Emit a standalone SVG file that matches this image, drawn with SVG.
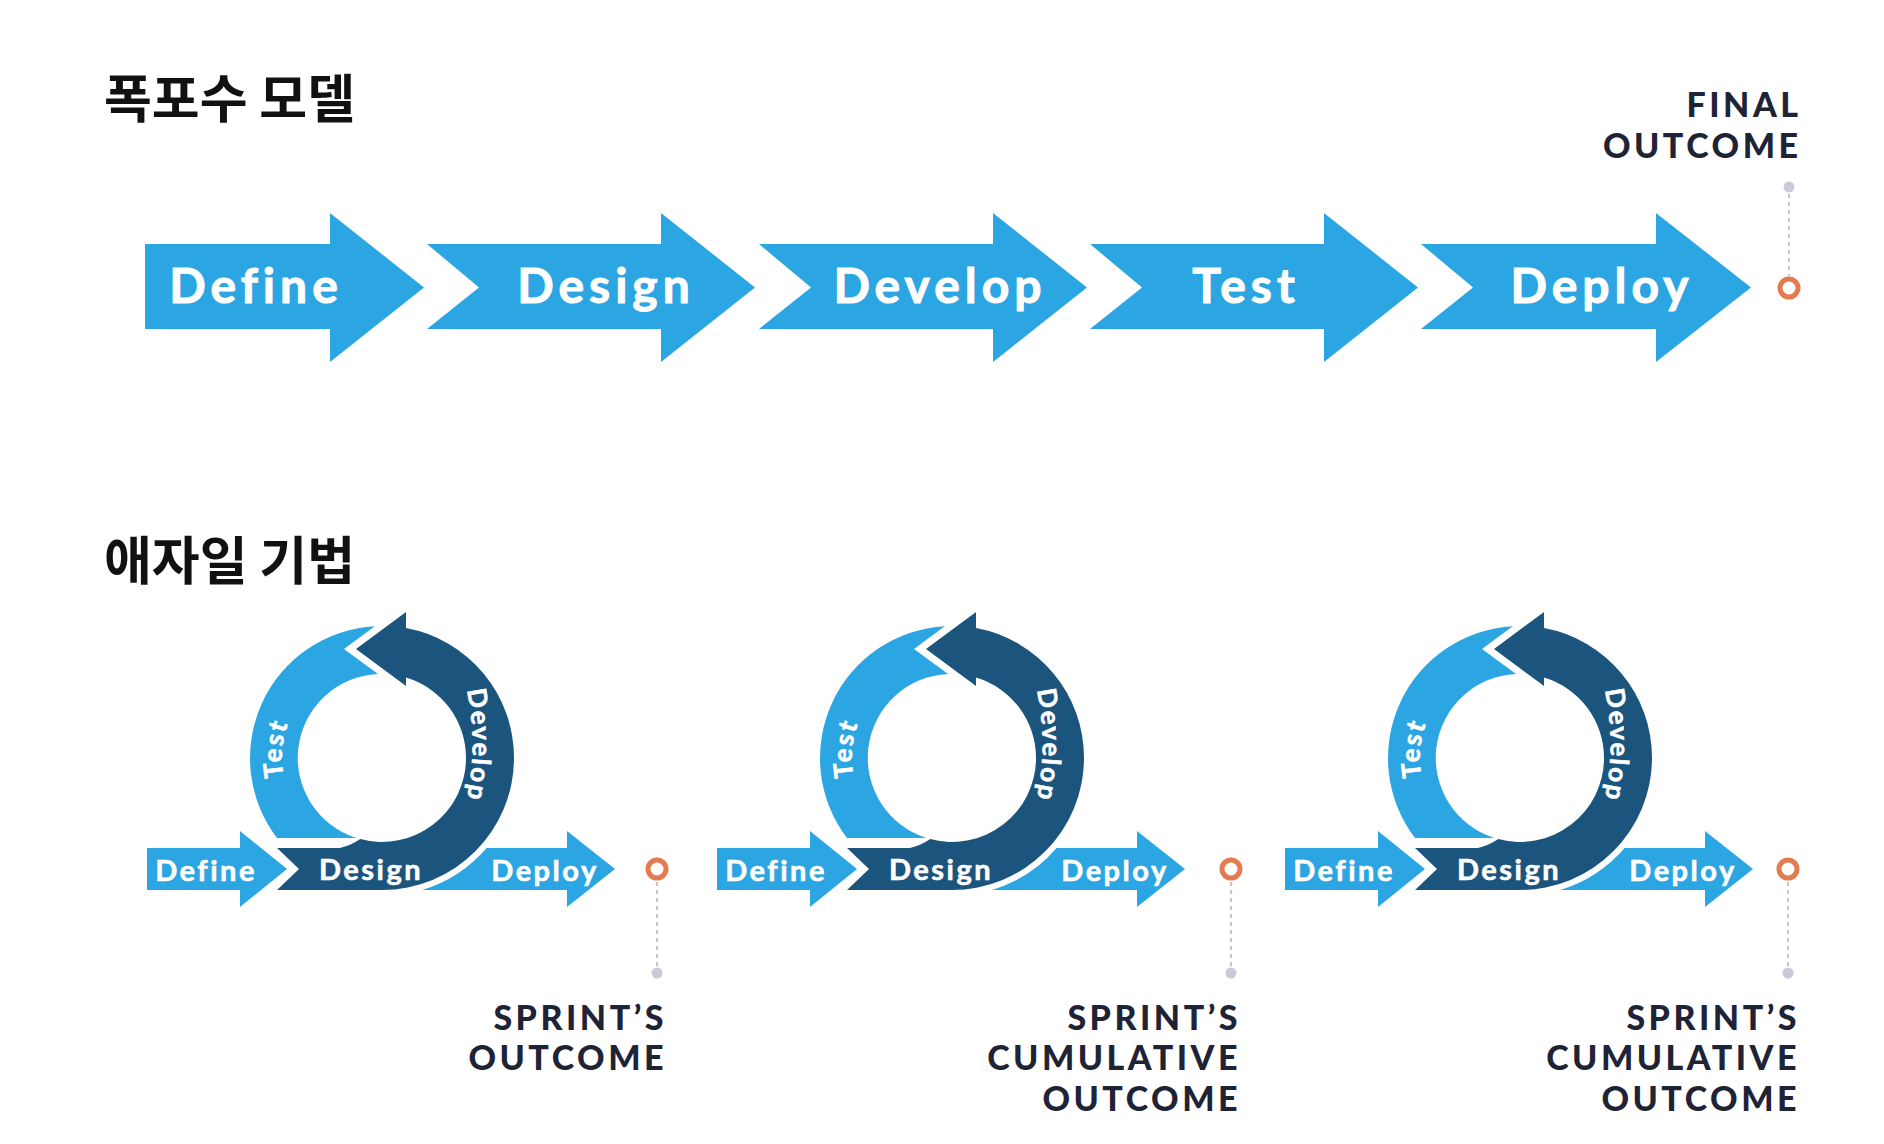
<svg xmlns="http://www.w3.org/2000/svg" xmlns:xlink="http://www.w3.org/1999/xlink" width="1884" height="1144" viewBox="0 0 1884 1144">
  <style>
    .title { font-family: "Noto Sans CJK KR", "Noto Sans", sans-serif; font-weight: 700; font-size: 52px; fill: #111111; }
    .light { fill: #2ba6e3; }
    .dark { fill: #1b557d; stroke: #ffffff; stroke-width: 6; stroke-linejoin: miter; paint-order: stroke; }
    .big { font-family: Lato, "Open Sans", sans-serif; font-weight: 700; font-size: 48px; fill: #ffffff; stroke: #ffffff; stroke-width: 1; letter-spacing: 5px; text-anchor: middle; }
    .small { font-family: Lato, "Open Sans", sans-serif; font-weight: 700; font-size: 29px; fill: #ffffff; stroke: #ffffff; stroke-width: 0.6; letter-spacing: 2.5px; text-anchor: middle; }
    .ring { font-family: Lato, "Open Sans", sans-serif; font-weight: 700; font-size: 26px; fill: #ffffff; stroke: #ffffff; stroke-width: 0.6; letter-spacing: 2px; text-anchor: middle; }
    .label { font-family: Lato, "Open Sans", sans-serif; font-weight: 900; font-size: 34px; fill: #1f2336; letter-spacing: 3.5px; text-anchor: end; }
    .target { fill: #ffffff; stroke: #e47b4e; stroke-width: 5; }
    .pin { fill: #c9c9d9; }
    .lead { stroke: #b5b5c6; stroke-width: 1.6; stroke-dasharray: 4 4; fill: none; }
  </style>
  <defs>
    <!-- baselines for the curved labels on the loop (clockwise arcs) -->
    <path id="arcDevelop" d="M445.6 629.7 A260 260 0 0 1 445.6 860.3"/>
    <path id="arcTest" d="M364.6 856.5 A100 100 0 0 1 382 658"/>
  </defs>

  <rect width="1884" height="1144" fill="#ffffff"/>

  <!-- section titles -->
  <text class="title" x="104" y="118">폭포수 모델</text>
  <text class="title" x="104" y="580">애자일 기법</text>

  <!-- waterfall chain -->
  <g id="wf-define">
    <path class="light" d="M145 244 H330 V213 L424 287.5 L330 362 V329 H145 Z"/>
    <text class="big" x="256" y="303">Define</text>
  </g>
  <g id="wf-design">
    <path class="light" d="M427 244 H661 V213 L755 287.5 L661 362 V329 H427 L479 287.5 Z"/>
    <text class="big" x="606" y="303">Design</text>
  </g>
  <g id="wf-develop">
    <path class="light" d="M759 244 H993 V213 L1087 287.5 L993 362 V329 H759 L811 287.5 Z"/>
    <text class="big" x="940" y="303">Develop</text>
  </g>
  <g id="wf-test">
    <path class="light" d="M1090 244 H1324 V213 L1418 287.5 L1324 362 V329 H1090 L1142 287.5 Z"/>
    <text class="big" x="1246" y="303">Test</text>
  </g>
  <g id="wf-deploy">
    <path class="light" d="M1421 244 H1656 V213 L1751 287.5 L1656 362 V329 H1421 L1473 287.5 Z"/>
    <text class="big" x="1602" y="303">Deploy</text>
  </g>
  <g id="wf-outcome">
    <circle class="target" cx="1789" cy="288" r="9"/>
    <circle class="pin" cx="1789" cy="187" r="5.5"/>
    <text class="label" x="1801.5" y="117">FINAL</text>
    <text class="label" x="1801.5" y="158">OUTCOME</text>
  </g>

  <!-- sprint 1 -->
  <g id="sprint1">
    <g id="s1-define">
      <path class="light" d="M147 848 H240 V831 L287 869 L240 907 V890 H147 Z"/>
      <text class="small" x="206" y="881">Define</text>
    </g>
    <g id="s1-test">
      <path class="light" d="M374.8 626.2 A132 132 0 0 0 277 838 L356.4 838 A84 84 0 0 1 378 674 L344 649 Z"/>
      <text class="ring"><textPath href="#arcTest" xlink:href="#arcTest" startOffset="50%">Test</textPath></text>
    </g>
    <g id="s1-design">
      <path class="dark" d="M277 848 L299 869 L277 890 H382 A132 132 0 0 0 514 758 A132 132 0 0 0 406 628 L406 612 L356 649 L406 686 L406 677.5 A84 84 0 0 1 466 758 A84 84 0 0 1 360.3 839.1 Q350 846 340 848 Z"/>
      <text class="small" x="371" y="880">Design</text>
      <text class="ring"><textPath href="#arcDevelop" xlink:href="#arcDevelop" startOffset="50%">Develop</textPath></text>
    </g>
    <g id="s1-deploy">
      <path class="light" d="M486.6 848 H567 V831 L615 869 L567 907 V890 H422.2 A138 138 0 0 0 486.6 848 Z"/>
      <text class="small" x="545" y="881">Deploy</text>
    </g>
  </g>

  <!-- sprint 2 -->
  <g id="sprint2" transform="translate(570 0)">
    <g id="s2-define">
      <path class="light" d="M147 848 H240 V831 L287 869 L240 907 V890 H147 Z"/>
      <text class="small" x="206" y="881">Define</text>
    </g>
    <g id="s2-test">
      <path class="light" d="M374.8 626.2 A132 132 0 0 0 277 838 L356.4 838 A84 84 0 0 1 378 674 L344 649 Z"/>
      <text class="ring"><textPath href="#arcTest" xlink:href="#arcTest" startOffset="50%">Test</textPath></text>
    </g>
    <g id="s2-design">
      <path class="dark" d="M277 848 L299 869 L277 890 H382 A132 132 0 0 0 514 758 A132 132 0 0 0 406 628 L406 612 L356 649 L406 686 L406 677.5 A84 84 0 0 1 466 758 A84 84 0 0 1 360.3 839.1 Q350 846 340 848 Z"/>
      <text class="small" x="371" y="880">Design</text>
      <text class="ring"><textPath href="#arcDevelop" xlink:href="#arcDevelop" startOffset="50%">Develop</textPath></text>
    </g>
    <g id="s2-deploy">
      <path class="light" d="M486.6 848 H567 V831 L615 869 L567 907 V890 H422.2 A138 138 0 0 0 486.6 848 Z"/>
      <text class="small" x="545" y="881">Deploy</text>
    </g>
  </g>

  <!-- sprint 3 -->
  <g id="sprint3" transform="translate(1138 0)">
    <g id="s3-define">
      <path class="light" d="M147 848 H240 V831 L287 869 L240 907 V890 H147 Z"/>
      <text class="small" x="206" y="881">Define</text>
    </g>
    <g id="s3-test">
      <path class="light" d="M374.8 626.2 A132 132 0 0 0 277 838 L356.4 838 A84 84 0 0 1 378 674 L344 649 Z"/>
      <text class="ring"><textPath href="#arcTest" xlink:href="#arcTest" startOffset="50%">Test</textPath></text>
    </g>
    <g id="s3-design">
      <path class="dark" d="M277 848 L299 869 L277 890 H382 A132 132 0 0 0 514 758 A132 132 0 0 0 406 628 L406 612 L356 649 L406 686 L406 677.5 A84 84 0 0 1 466 758 A84 84 0 0 1 360.3 839.1 Q350 846 340 848 Z"/>
      <text class="small" x="371" y="880">Design</text>
      <text class="ring"><textPath href="#arcDevelop" xlink:href="#arcDevelop" startOffset="50%">Develop</textPath></text>
    </g>
    <g id="s3-deploy">
      <path class="light" d="M486.6 848 H567 V831 L615 869 L567 907 V890 H422.2 A138 138 0 0 0 486.6 848 Z"/>
      <text class="small" x="545" y="881">Deploy</text>
    </g>
  </g>

  <!-- sprint outcomes -->
  <g id="s1-outcome">
    <circle class="target" cx="657" cy="869" r="9"/>
    <circle class="pin" cx="657" cy="973" r="5.5"/>
    <text class="label" x="667" y="1030">SPRINT’S</text>
    <text class="label" x="667" y="1070">OUTCOME</text>
  </g>
  <g id="s2-outcome">
    <circle class="target" cx="1231" cy="869" r="9"/>
    <circle class="pin" cx="1231" cy="973" r="5.5"/>
    <text class="label" x="1241" y="1030">SPRINT’S</text>
    <text class="label" x="1241" y="1070">CUMULATIVE</text>
    <text class="label" x="1241" y="1111">OUTCOME</text>
  </g>
  <g id="s3-outcome">
    <circle class="target" cx="1788" cy="869" r="9"/>
    <circle class="pin" cx="1788" cy="973" r="5.5"/>
    <text class="label" x="1800" y="1030">SPRINT’S</text>
    <text class="label" x="1800" y="1070">CUMULATIVE</text>
    <text class="label" x="1800" y="1111">OUTCOME</text>
  </g>

  <!-- dashed leaders between outcome markers and pins -->
  <g id="connectors">
    <line class="lead" x1="1789" y1="194" x2="1789" y2="276"/>
    <line class="lead" x1="657" y1="882" x2="657" y2="966"/>
    <line class="lead" x1="1231" y1="882" x2="1231" y2="966"/>
    <line class="lead" x1="1788" y1="882" x2="1788" y2="966"/>
  </g>
</svg>
